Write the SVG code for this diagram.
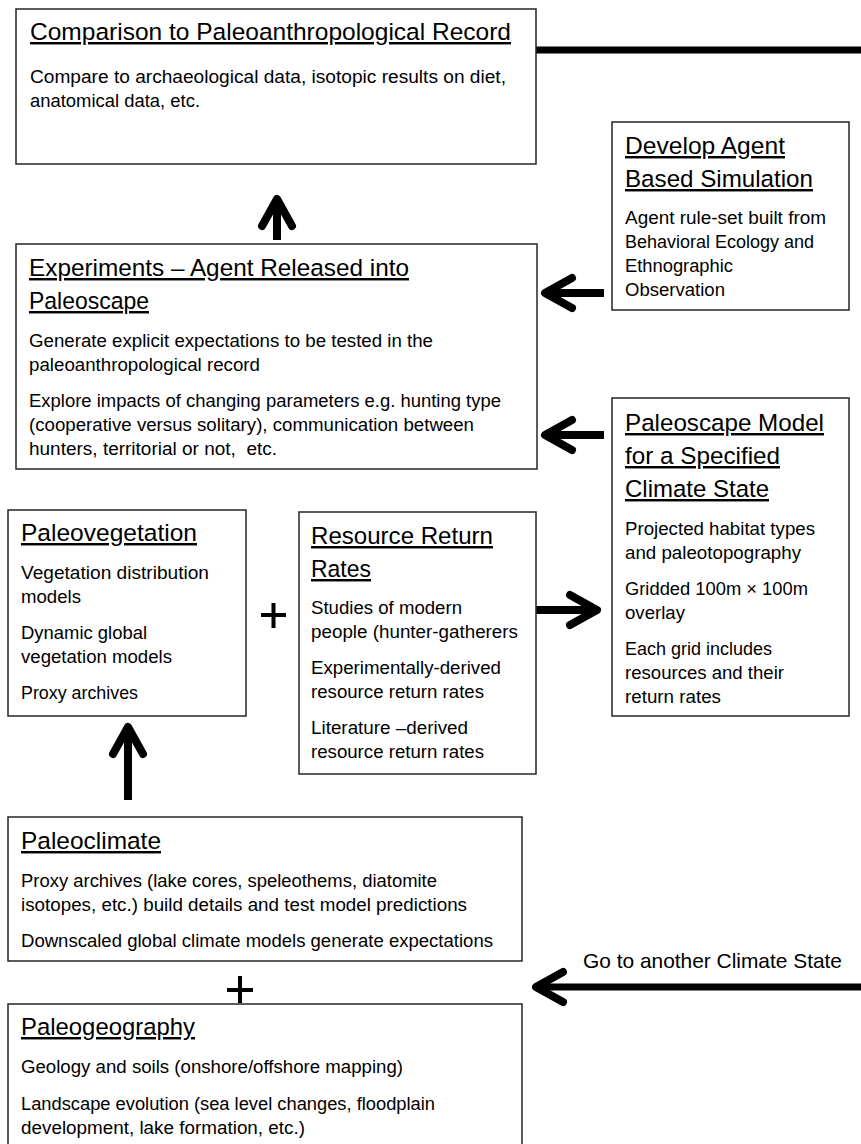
<svg xmlns="http://www.w3.org/2000/svg" width="861" height="1144" viewBox="0 0 861 1144">
<style>
  .box { fill: #fff; stroke: #262626; stroke-width: 1.5; }
  .t { font-family: "Liberation Sans", Arial, sans-serif; font-size: 24.5px; fill: #000; text-decoration: underline; }
  .b { font-family: "Liberation Sans", Arial, sans-serif; font-size: 17.5px; fill: #000; }
  .g { font-family: "Liberation Sans", Arial, sans-serif; font-size: 21px; fill: #000; }
  .shaft { stroke: #000; stroke-width: 8; fill: none; }
  .plus { stroke: #000; stroke-width: 4; fill: none; }
</style>
<defs>
  <marker id="head" markerUnits="userSpaceOnUse" viewBox="-40 -25 50 50" markerWidth="50" markerHeight="50" refX="0" refY="0" orient="auto" overflow="visible">
    <path d="M-27,-15 L0,0 L-27,15" fill="none" stroke="#000" stroke-width="8" stroke-linecap="round" stroke-linejoin="round"/>
  </marker>
</defs>
<rect width="861" height="1144" fill="#fff"/>

<g id="connectors">
  <line class="shaft" x1="536" y1="50" x2="861" y2="50" style="stroke-width:7"/>
  <line class="shaft" x1="277" y1="240" x2="277" y2="199" marker-end="url(#head)"/>
  <line class="shaft" x1="604" y1="293" x2="545" y2="293" marker-end="url(#head)"/>
  <line class="shaft" x1="604" y1="435" x2="545" y2="435" marker-end="url(#head)"/>
  <line class="shaft" x1="536" y1="610" x2="597" y2="610" marker-end="url(#head)"/>
  <line class="shaft" x1="128" y1="800" x2="128" y2="727" marker-end="url(#head)"/>
  <line class="shaft" x1="861" y1="987" x2="536" y2="987" style="stroke-width:7" marker-end="url(#head)"/>
</g>

<g id="plus-signs">
  <path class="plus" d="M261,615 H286 M273.5,603 V628"/>
  <path class="plus" d="M227,990 H253 M240,976 V1003"/>
</g>

<g id="comparison">
  <rect class="box" x="16" y="9" width="520" height="155"/>
  <text class="t" x="30" y="40" textLength="481" lengthAdjust="spacingAndGlyphs">Comparison to Paleoanthropological Record</text>
  <text class="b" x="30" y="83" textLength="476" lengthAdjust="spacingAndGlyphs">Compare to archaeological data, isotopic results on diet,</text>
  <text class="b" x="30" y="107" textLength="170" lengthAdjust="spacingAndGlyphs">anatomical data, etc.</text>
</g>

<g id="develop-agent">
  <rect class="box" x="612" y="122" width="237" height="188"/>
  <text class="t" x="625" y="154" textLength="160" lengthAdjust="spacingAndGlyphs">Develop Agent</text>
  <text class="t" x="625" y="187" textLength="188" lengthAdjust="spacingAndGlyphs">Based Simulation</text>
  <text class="b" x="625" y="224" textLength="201" lengthAdjust="spacingAndGlyphs">Agent rule-set built from</text>
  <text class="b" x="625" y="248" textLength="189" lengthAdjust="spacingAndGlyphs">Behavioral Ecology and</text>
  <text class="b" x="625" y="272" textLength="108" lengthAdjust="spacingAndGlyphs">Ethnographic</text>
  <text class="b" x="625" y="296" textLength="100" lengthAdjust="spacingAndGlyphs">Observation</text>
</g>

<g id="experiments">
  <rect class="box" x="16" y="244" width="521" height="225"/>
  <text class="t" x="29" y="276" textLength="380" lengthAdjust="spacingAndGlyphs">Experiments – Agent Released into</text>
  <text class="t" x="29" y="309" textLength="120" lengthAdjust="spacingAndGlyphs">Paleoscape</text>
  <text class="b" x="29" y="347" textLength="404" lengthAdjust="spacingAndGlyphs">Generate explicit expectations to be tested in the</text>
  <text class="b" x="29" y="371" textLength="231" lengthAdjust="spacingAndGlyphs">paleoanthropological record</text>
  <text class="b" x="29" y="407" textLength="472" lengthAdjust="spacingAndGlyphs">Explore impacts of changing parameters e.g. hunting type</text>
  <text class="b" x="29" y="431" textLength="445" lengthAdjust="spacingAndGlyphs">(cooperative versus solitary), communication between</text>
  <text class="b" x="29" y="455" textLength="248" lengthAdjust="spacingAndGlyphs" style="white-space:pre">hunters, territorial or not,  etc.</text>
</g>

<g id="paleoscape-model">
  <rect class="box" x="612" y="398" width="237" height="318"/>
  <text class="t" x="625" y="431" textLength="199" lengthAdjust="spacingAndGlyphs">Paleoscape Model</text>
  <text class="t" x="625" y="464" textLength="155" lengthAdjust="spacingAndGlyphs">for a Specified</text>
  <text class="t" x="625" y="497" textLength="144" lengthAdjust="spacingAndGlyphs">Climate State</text>
  <text class="b" x="625" y="535" textLength="190" lengthAdjust="spacingAndGlyphs">Projected habitat types</text>
  <text class="b" x="625" y="559" textLength="176" lengthAdjust="spacingAndGlyphs">and paleotopography</text>
  <text class="b" x="625" y="595" textLength="183" lengthAdjust="spacingAndGlyphs">Gridded 100m × 100m</text>
  <text class="b" x="625" y="619" textLength="60" lengthAdjust="spacingAndGlyphs">overlay</text>
  <text class="b" x="625" y="655" textLength="147" lengthAdjust="spacingAndGlyphs">Each grid includes</text>
  <text class="b" x="625" y="679" textLength="159" lengthAdjust="spacingAndGlyphs">resources and their</text>
  <text class="b" x="625" y="703" textLength="96" lengthAdjust="spacingAndGlyphs">return rates</text>
</g>

<g id="paleovegetation">
  <rect class="box" x="8" y="510" width="238" height="206"/>
  <text class="t" x="21" y="541" textLength="176" lengthAdjust="spacingAndGlyphs">Paleovegetation</text>
  <text class="b" x="21" y="579" textLength="188" lengthAdjust="spacingAndGlyphs">Vegetation distribution</text>
  <text class="b" x="21" y="603" textLength="60" lengthAdjust="spacingAndGlyphs">models</text>
  <text class="b" x="21" y="639" textLength="126" lengthAdjust="spacingAndGlyphs">Dynamic global</text>
  <text class="b" x="21" y="663" textLength="151" lengthAdjust="spacingAndGlyphs">vegetation models</text>
  <text class="b" x="21" y="699" textLength="117" lengthAdjust="spacingAndGlyphs">Proxy archives</text>
</g>

<g id="resource-return-rates">
  <rect class="box" x="299" y="512" width="237" height="262"/>
  <text class="t" x="311" y="544" textLength="182" lengthAdjust="spacingAndGlyphs">Resource Return</text>
  <text class="t" x="311" y="577" textLength="60" lengthAdjust="spacingAndGlyphs">Rates</text>
  <text class="b" x="311" y="614" textLength="151" lengthAdjust="spacingAndGlyphs">Studies of modern</text>
  <text class="b" x="311" y="638" textLength="207" lengthAdjust="spacingAndGlyphs">people (hunter-gatherers</text>
  <text class="b" x="311" y="674" textLength="190" lengthAdjust="spacingAndGlyphs">Experimentally-derived</text>
  <text class="b" x="311" y="698" textLength="173" lengthAdjust="spacingAndGlyphs">resource return rates</text>
  <text class="b" x="311" y="734" textLength="157" lengthAdjust="spacingAndGlyphs">Literature –derived</text>
  <text class="b" x="311" y="758" textLength="173" lengthAdjust="spacingAndGlyphs">resource return rates</text>
</g>

<g id="paleoclimate">
  <rect class="box" x="8" y="817" width="514" height="144"/>
  <text class="t" x="21" y="849" textLength="140" lengthAdjust="spacingAndGlyphs">Paleoclimate</text>
  <text class="b" x="21" y="887" textLength="416" lengthAdjust="spacingAndGlyphs">Proxy archives (lake cores, speleothems, diatomite</text>
  <text class="b" x="21" y="911" textLength="446" lengthAdjust="spacingAndGlyphs">isotopes, etc.) build details and test model predictions</text>
  <text class="b" x="21" y="947" textLength="472" lengthAdjust="spacingAndGlyphs">Downscaled global climate models generate expectations</text>
</g>

<g id="paleogeography">
  <rect class="box" x="8" y="1004" width="514" height="160"/>
  <text class="t" x="21" y="1035" textLength="174" lengthAdjust="spacingAndGlyphs">Paleogeography</text>
  <text class="b" x="21" y="1073" textLength="382" lengthAdjust="spacingAndGlyphs">Geology and soils (onshore/offshore mapping)</text>
  <text class="b" x="21" y="1110" textLength="414" lengthAdjust="spacingAndGlyphs">Landscape evolution (sea level changes, floodplain</text>
  <text class="b" x="21" y="1134" textLength="284" lengthAdjust="spacingAndGlyphs">development, lake formation, etc.)</text>
</g>

<g id="go-to-another-climate-state">
  <text class="g" x="583" y="968" textLength="259" lengthAdjust="spacingAndGlyphs">Go to another Climate State</text>
</g>
</svg>
